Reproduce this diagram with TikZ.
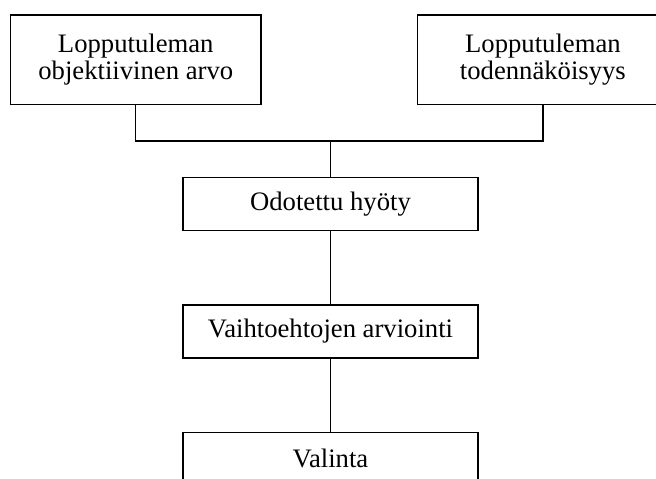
\documentclass[tikz,border=0pt]{standalone}
\usepackage{fontspec}
\setmainfont{Liberation Serif}
\usetikzlibrary{positioning}

\begin{document}
\begin{tikzpicture}[
  x=0.75pt, y=-0.75pt,
  node distance=54.5pt,
  topbox/.style={draw, line width=1.1pt, align=center, minimum width=188pt,
                 minimum height=67pt, inner sep=0pt,
                 font=\fontsize{20}{20.5}\selectfont},
  stepbox/.style={draw, line width=1.1pt, align=center, minimum width=221.5pt,
                  minimum height=40pt, inner sep=0pt,
                  font=\fontsize{20}{24}\selectfont},
  link/.style={line width=1.1pt}
]
\useasboundingbox (0,0) rectangle (656,478);
\clip (0,0) rectangle (656,478);
\node[topbox] (arvo) at (135.75,59.7) {Lopputuleman\\objektiivinen arvo};
\node[topbox, right=116.25pt of arvo] (tod) {Lopputuleman\\todennäköisyys};
\node[stepbox] (hyoty) at (330.5,204) {Odotettu hyöty};
\node[stepbox, below=of hyoty] (arviointi) {Vaihtoehtojen arviointi};
\node[stepbox, below=of arviointi] (valinta) {Valinta};
\coordinate (jako) at (330.5,141);
\draw[link] (arvo.south) |- (jako) -| (tod.south);
\draw[link] (jako) -- (hyoty.north);
\draw[link] (hyoty) -- (arviointi);
\draw[link] (arviointi) -- (valinta);
\end{tikzpicture}
\end{document}
